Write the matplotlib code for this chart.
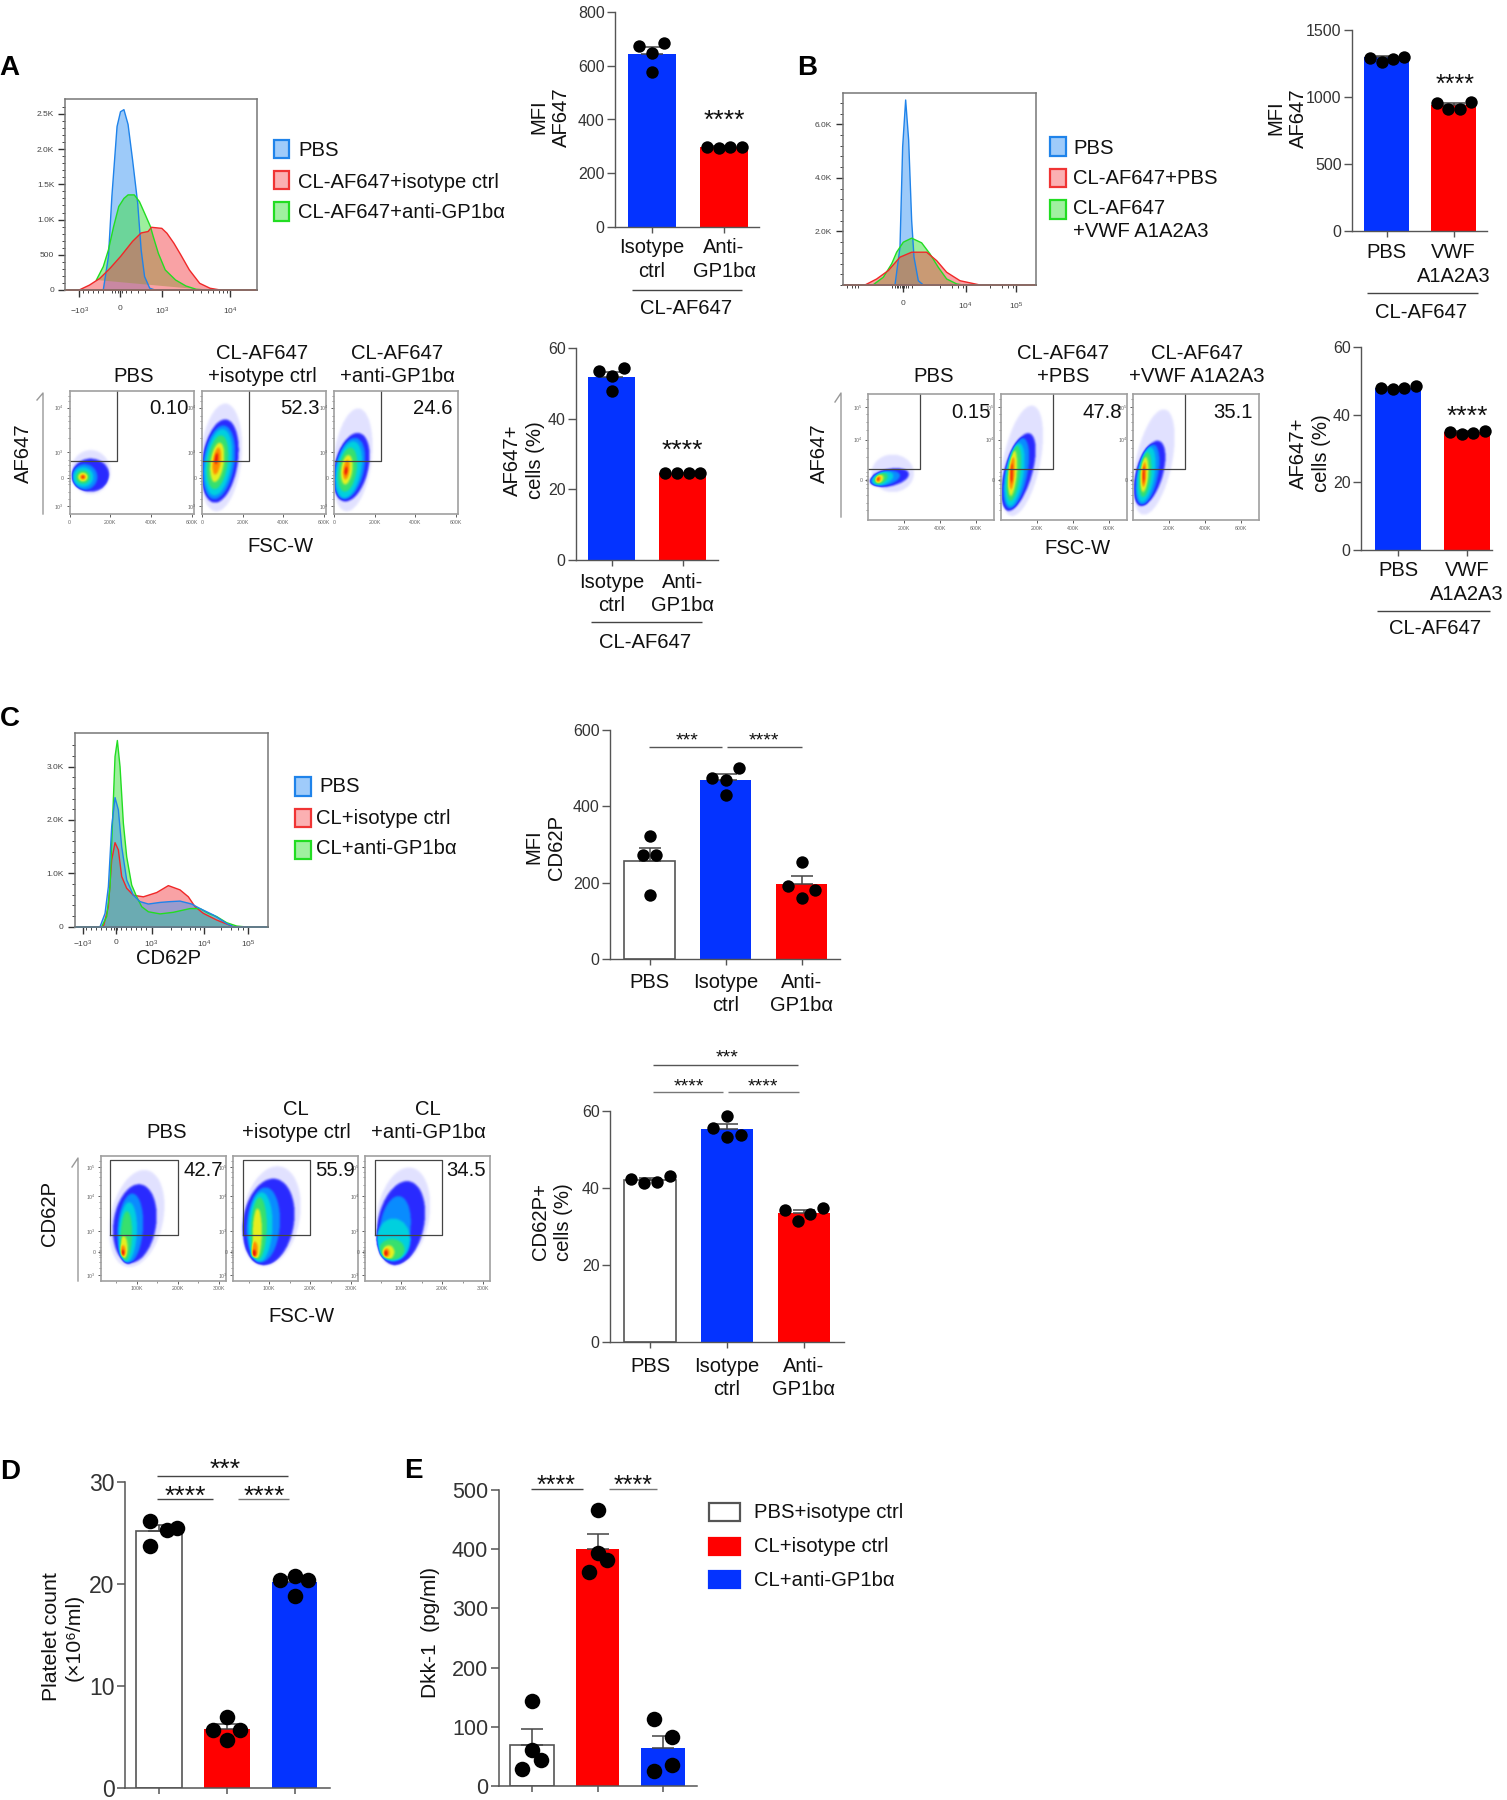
"""
platelet CL uptake figure, panels A to E
flow plots are rasterised from nested density outlines read off the picture
"""
import numpy as np
import matplotlib
matplotlib.use("Agg")
import matplotlib.pyplot as plt
from matplotlib.patches import Rectangle
from matplotlib.colors import LinearSegmentedColormap

plt.rcParams['font.family'] = ['Liberation Sans', 'DejaVu Sans']

W, H = 1507, 1800
BLUE, RED = '#0433ff', '#ff0000'
LINE = '#555555'

# --- bar data ---
a_mfi_means = [645, 297]
a_mfi_sem = [25, 3]
a_mfi_pts = [[673, 686, 649, 576], [298, 293, 296, 298]]
a_mfi_off = [[-.185, .17, 0, 0], [-.235, -.074, .088, .25]]

a_pct_means = [51.9, 24.6]
a_pct_sem = [1.4, .1]
a_pct_pts = [[53.5, 54.3, 52.1, 47.9], [24.6, 24.5, 24.5, 24.7]]
a_pct_off = [[-.18, .17, 0, 0], [-.244, -.08, .085, .25]]

b_mfi_means = [1296, 940]
b_mfi_sem = [9, 14]
b_mfi_pts = [[1293, 1259, 1281, 1301], [958, 913, 913, 965]]
b_mfi_off = [[-.244, -.07, .09, .254], [-.24, -.075, .09, .26]]

b_pct_means = [48, 35]
b_pct_sem = [.2, .3]
b_pct_pts = [[47.9, 47.7, 47.9, 48.5], [34.9, 34.3, 34.6, 35.2]]
b_pct_off = [[-.244, -.07, .09, .254], [-.24, -.075, .09, .26]]

c_mfi_means = [258, 468, 196]
c_mfi_sem = [34, 17, 21]
c_mfi_pts = [[322, 273, 273, 167], [474, 469, 501, 429], [192, 181, 254, 160]]
c_mfi_off = [[0, -.09, .09, 0], [-.18, 0, .175, 0], [-.18, .18, 0, 0]]

c_pct_means = [42.1, 55.2, 33.6]
c_pct_sem = [.4, 1.4, .8]
c_pct_pts = [[42.3, 41.4, 41.6, 43.2], [55.6, 53.8, 58.7, 53.2], [34.2, 31.4, 33.2, 34.7]]
c_pct_off = [[-.247, -.078, .087, .255], [-.18, .178, 0, 0], [-.25, -.08, .08, .25]]

d_means = [25.2, 5.8, 20.2]
d_sem = [.55, .5, .45]
d_pts = [[26.2, 23.7, 25.3, 25.5], [7.0, 5.7, 5.7, 4.7], [20.4, 20.75, 20.4, 18.8]]
d_off = [[-.14, -.14, .12, .27], [0, -.2, .2, 0], [-.21, 0, .2, 0]]

e_means = [70, 401, 64]
e_sem = [26, 24, 21]
e_pts = [[144, 61, 44, 28], [467, 393, 381, 361], [113, 83, 35, 26]]
e_off = [[0, 0, .13, -.15], [0, 0, .15, -.13], [-.13, .14, .14, -.13]]

# --- histogram data: x in display channels, y in counts ---
ha_blue_x = [110, 125, 135, 150, 160, 170, 182, 195, 210, 220, 230, 245, 260]
ha_blue_y = [0, 475, 1330, 2320, 2530, 2560, 2350, 1850, 1230, 570, 190, 25, 0]
ha_green_x = [90, 110, 125, 140, 155, 170, 182, 200, 215, 230, 247, 255, 270, 290, 320, 350, 380, 410]
ha_green_y = [142, 332, 570, 900, 1185, 1300, 1350, 1350, 1255, 1090, 900, 760, 520, 285, 142, 57, 10, 0]
ha_red_x = [40, 70, 100, 130, 160, 195, 220, 240, 250, 280, 295, 315, 335, 360, 390, 420, 450]
ha_red_y = [0, 70, 165, 310, 475, 690, 810, 830, 890, 875, 805, 665, 500, 285, 95, 25, 0]

hb_blue_x = [155, 170, 178, 187, 196, 205, 212, 225, 240]
hb_blue_y = [0, 1410, 5160, 6910, 5410, 2410, 1040, 160, 0]
hb_green_x = [90, 120, 145, 160, 180, 205, 235, 260, 285, 310, 340, 360]
hb_green_y = [12, 290, 790, 1225, 1600, 1750, 1575, 1160, 660, 225, 40, 0]
hb_red_x = [65, 100, 135, 170, 205, 250, 280, 310, 350, 410]
hb_red_y = [0, 225, 540, 1040, 1225, 1225, 910, 475, 160, 0]

hc_green_x = [81, 96, 106, 114, 121, 128, 136, 146, 156, 171, 186, 201, 221, 256, 296, 346, 376, 401, 426, 456, 486, 506]
hc_green_y = [0, 190, 750, 2060, 3190, 3490, 3000, 1940, 1310, 780, 560, 375, 280, 240, 270, 340, 340, 250, 190, 75, 12, 0]
hc_blue_x = [76, 91, 101, 111, 121, 131, 141, 156, 176, 196, 221, 256, 286, 316, 351, 376, 416, 456, 476]
hc_blue_y = [0, 250, 750, 1875, 2420, 2190, 1500, 875, 590, 470, 425, 455, 470, 480, 425, 340, 220, 60, 0]
hc_red_x = [86, 101, 111, 121, 131, 141, 156, 176, 206, 246, 281, 316, 341, 361, 386, 426, 476]
hc_red_y = [0, 375, 1250, 1575, 1440, 940, 720, 590, 560, 640, 770, 690, 560, 375, 250, 125, 0]

# --- flow plots: (level, x centre, y centre, width, height, lean) ---
dens_colors = ['#ffffff', '#e2e2ff', '#2a2aff', '#0a8cff', '#00d0e0', '#35e070', '#e6f020', '#ff8c00', '#e8140c']

flow_a1 = [(1, 100, 34, 195, 36, 0), (2, 100, 31.5, 184, 27, 0), (3, 70, 30, 125, 21, 0), (4, 64, 30, 98, 16, 0),
           (5, 62, 30, 69, 11, 0), (6, 62, 30, 46, 7, 0), (7, 62, 30, 26, 4.3, 0), (8, 62, 30, 13, 2.7, 0)]
flow_a2 = [(1, 92, 46, 205, 88, 22), (2, 88, 43, 178, 68, 25), (3, 82, 42, 155, 60, 22), (4, 80, 42, 130, 54, 20),
           (5, 76, 42, 100, 44, 16), (6, 74, 42, 65, 32, 12), (7, 72, 43, 38, 22, 8), (8, 70, 45, 16, 9, 3)]
flow_a3 = [(1, 90, 44, 190, 84, 28), (2, 85, 38, 170, 56, 30), (3, 76, 37, 145, 50, 26), (4, 72, 36, 122, 46, 22),
           (5, 66, 36, 90, 36, 14), (6, 62, 36, 55, 24, 8), (7, 60, 36, 30, 16, 5), (8, 58, 35, 14, 7, 2)]
flow_b1 = [(1, 135, 37, 235, 30, 0), (2, 115, 33.5, 205, 15, 40), (3, 95, 33, 150, 12, 30), (4, 80, 33, 110, 11, 20),
           (5, 70, 33, 70, 9, 12), (6, 62, 32.5, 42, 7, 6), (7, 56, 32.5, 24, 5, 3), (8, 54, 32.5, 12, 3, 1)]
flow_b2 = [(1, 115, 47, 210, 88, 55), (2, 95, 38, 160, 62, 55), (3, 84, 37, 125, 56, 35), (4, 75, 36, 100, 50, 25),
           (5, 70, 37, 72, 44, 18), (6, 63, 37, 46, 36, 10), (7, 60, 37, 28, 26, 6), (8, 58, 37, 12, 16, 1)]
flow_b3 = [(1, 115, 46, 205, 84, 55), (2, 90, 37, 155, 52, 45), (3, 80, 36, 118, 48, 30), (4, 72, 36, 95, 44, 22),
           (5, 66, 36, 65, 36, 12), (6, 62, 36, 42, 28, 7), (7, 60, 36, 24, 20, 3), (8, 58, 36, 11, 14, 1)]
flow_c1 = [(1, 100, 50, 130, 78, 18), (2, 95, 46, 105, 63, 10), (3, 84, 42, 62, 56, 5), (4, 78, 39, 44, 48, 3),
           (5, 74, 36, 28, 40, 2), (6, 68, 27, 18, 18, 0), (7, 66, 24, 13, 9, 0), (8, 65.6, 22.5, 9, 5, 0)]
flow_c2 = [(1, 105, 52, 140, 80, 15), (2, 98, 47, 125, 70, 12), (3, 86, 45, 80, 60, 5), (4, 79, 43, 58, 56, 3),
           (5, 75, 42, 38, 50, 2), (6, 71, 38, 22, 40, 1), (7, 65, 25, 15, 13, 0), (8, 63, 22, 11, 6, 0)]
flow_c3 = [(1, 105, 52, 130, 78, 15), (2, 100, 46, 115, 68, 15), (3, 86, 42, 75, 52, 8), (4, 82, 33, 82, 34, 0),
           (5, 78, 25, 62, 17, 0), (6, 70, 23, 28, 11, 0), (7, 65, 22.5, 15, 7, 0), (8, 63, 22, 9, 5, 0)]

fig = plt.figure(figsize=(W / 100, H / 100), dpi=100, facecolor='white')
dens_cmap = LinearSegmentedColormap.from_list('dens', dens_colors)


def pix_axes(x0, x1, y_top, y_bot):
    return fig.add_axes([x0 / W, 1 - y_bot / H, (x1 - x0) / W, (y_bot - y_top) / H])


def bar_panel(left, right, y_zero, y_top, ymax, yticks, c0, step, means, sem, pts, off, colors, labels=None,
              ticksize=11.5, labelsize=14.5, dot=80, tick_w=1.0, label_pad=5):
    ax = pix_axes(left, right, y_top, y_zero)
    ax.set_xlim((left - c0) / step, (right - c0) / step)
    ax.set_ylim(0, ymax)
    xs = np.arange(len(means))
    for i, c in enumerate(colors):
        if c == 'white':
            ax.bar(i, means[i], .67, facecolor='white', edgecolor=LINE, linewidth=1.2, zorder=2)
        else:
            ax.bar(i, means[i], .67, color=c, zorder=2)
    ax.errorbar(xs, means, yerr=[np.zeros(len(sem)), sem], fmt='none', ecolor='#444444', elinewidth=1.1,
                capsize=8, capthick=1.1, zorder=3, clip_on=False)
    for i in xs:
        ax.scatter(i + np.array(off[i]), pts[i], s=dot, color='black', linewidths=0, zorder=4, clip_on=False)
    for s in ['top', 'right']:
        ax.spines[s].set_visible(False)
    for s in ['left', 'bottom']:
        ax.spines[s].set_color(LINE)
        ax.spines[s].set_linewidth(tick_w)
    ax.set_yticks(yticks)
    ax.set_xticks(xs)
    ax.set_xticklabels(labels if labels else [''] * len(xs), fontsize=labelsize, linespacing=1.3, color='#111111')
    ax.tick_params(axis='y', labelsize=ticksize, length=5.5, width=tick_w, color=LINE, labelcolor='#333333', pad=2)
    ax.tick_params(axis='x', length=4, width=tick_w, color=LINE, pad=label_pad)
    ax.patch.set_alpha(0)
    return ax


def hist_panel(box, xmax, ymax, yticks, ylabels, yminor, xticks, xlabels, xminor, curves, xpad=6):
    ax = pix_axes(*box)
    ax.set_xlim(0, xmax)
    ax.set_ylim(0, ymax)
    for xs, ys, face, edge, alpha in curves:
        ax.fill(xs, ys, facecolor=face, alpha=alpha, linewidth=0)
        ax.plot(xs, ys, color=edge, lw=1.0)
        ax.plot([0, xmax], [0, 0], color=edge, lw=1.2, clip_on=False)
    ax.set_yticks(yticks)
    ax.set_yticklabels(ylabels)
    ax.set_yticks(yminor, minor=True)
    ax.set_xticks(xticks)
    ax.set_xticklabels(xlabels)
    ax.set_xticks(xminor, minor=True)
    ax.tick_params(which='major', labelsize=6, length=5, width=1, color='#333333', labelcolor='#444444', pad=3)
    ax.tick_params(which='minor', length=2.5, width=.7, color='#444444')
    ax.tick_params(axis='x', which='major', pad=xpad)
    for s in ax.spines.values():
        s.set_color('#777777')
        s.set_linewidth(1.1)
    return ax


def density_grid(layers, xlim, nx, ny, blur):
    # fill the outlines into a level grid, then soften the steps
    gx = np.linspace(xlim[0], xlim[1], nx)
    gy = np.linspace(0, 100, ny)
    xx, yy = np.meshgrid(gx, gy)
    grid = np.zeros((ny, nx))
    for level, cx, cy, w, h, lean in layers:
        dy = (yy - cy) / (h / 2)
        dx = (xx - cx - lean * dy) / (w / 2)
        grid[dx ** 2 + dy ** 2 <= 1] = level
    kernel = np.ones(blur) / blur
    for _ in range(2):
        grid = np.apply_along_axis(np.convolve, 0, grid, kernel, mode='same')
        grid = np.apply_along_axis(np.convolve, 1, grid, kernel, mode='same')
    return grid


def flow_panel(box, xlim, xticks, xlabels, xminor, yticks, ylabels, yminor, layers, gate):
    ax = pix_axes(*box)
    nx = int(2 * (box[1] - box[0]))
    ny = int(2 * (box[3] - box[2]))
    ax.imshow(density_grid(layers, xlim, nx, ny, 5), extent=(xlim[0], xlim[1], 0, 100), origin='lower',
              aspect='auto', cmap=dens_cmap, vmin=0, vmax=8, interpolation='bilinear')
    ax.set_xlim(*xlim)
    ax.set_ylim(0, 100)
    ax.plot(gate[0], gate[1], color='#444444', lw=.9, clip_on=False)
    ax.set_xticks(xticks)
    ax.set_xticklabels(xlabels)
    ax.set_xticks(xminor, minor=True)
    ax.set_yticks(yticks)
    ax.set_yticklabels(ylabels)
    ax.set_yticks(yminor, minor=True)
    ax.tick_params(which='major', labelsize=3.8, length=2.5, width=.6, color='#444444', labelcolor='#666666', pad=1.5)
    ax.tick_params(which='minor', length=1.5, width=.5, color='#666666')
    for s in ax.spines.values():
        s.set_color('#a0a0a0')
        s.set_linewidth(1.2)
    return ax


# --- bar panels ---
two_a = ['Isotype\nctrl', 'Anti-\nGP1bα']
two_b = ['PBS', 'VWF\nA1A2A3']
three = ['PBS', 'Isotype\nctrl', 'Anti-\nGP1bα']

bar_panel(615, 759, 227, 12, 800, [0, 200, 400, 600, 800], 652, 72, a_mfi_means, a_mfi_sem, a_mfi_pts, a_mfi_off,
          [BLUE, RED], two_a, label_pad=4)
bar_panel(576, 718, 560, 348, 60, [0, 20, 40, 60], 611.5, 71, a_pct_means, a_pct_sem, a_pct_pts, a_pct_off,
          [BLUE, RED], two_a)
bar_panel(1352, 1487, 231, 30, 1500, [0, 500, 1000, 1500], 1386.5, 67, b_mfi_means, b_mfi_sem, b_mfi_pts, b_mfi_off,
          [BLUE, RED], two_b)
bar_panel(1361, 1492, 550, 347, 60, [0, 20, 40, 60], 1398, 69, b_pct_means, b_pct_sem, b_pct_pts, b_pct_off,
          [BLUE, RED], two_b, label_pad=4)
bar_panel(610, 840, 959, 730, 600, [0, 200, 400, 600], 649.5, 76, c_mfi_means, c_mfi_sem, c_mfi_pts, c_mfi_off,
          ['white', BLUE, RED], three, label_pad=6)
bar_panel(610, 844, 1342, 1111, 60, [0, 20, 40, 60], 650, 77, c_pct_means, c_pct_sem, c_pct_pts, c_pct_off,
          ['white', BLUE, RED], three, label_pad=6.5)
bar_panel(125, 330, 1788, 1482, 30, [0, 10, 20, 30], 159, 67.8, d_means, d_sem, d_pts, d_off,
          ['white', RED, BLUE], None, ticksize=16.5, dot=125, tick_w=1.1)
bar_panel(498.6, 697, 1786, 1490, 500, [0, 100, 200, 300, 400, 500], 532, 65.5, e_means, e_sem, e_pts, e_off,
          ['white', RED, BLUE], None, ticksize=15.5, dot=125, tick_w=1.1)

# --- histograms ---
H_BLUE = ('#3d96f5', '#1f83ea')
H_RED = ('#f5474c', '#f02828')
H_GREEN = ('#3ce03c', '#22dd22')
tex = lambda s: r'$\mathregular{' + s + '}$'

hist_panel((65.4, 256.5, 99, 290), 555, 2711, [0, 500, 1000, 1500, 2000, 2500],
           ['0', '500', '1.0K', '1.5K', '2.0K', '2.5K'], np.arange(100, 2700, 100),
           [40, 158, 280, 478], [tex('-10^{3}'), '0', tex('10^{3}'), tex('10^{4}')],
           [50, 65, 80, 95, 110, 135, 145, 152, 165, 175, 190, 210, 230, 330, 370, 395, 415, 430, 445, 458, 468],
           [(ha_blue_x, ha_blue_y, H_BLUE[0], H_BLUE[1], .5),
            (ha_green_x, ha_green_y, H_GREEN[0], H_GREEN[1], .5),
            (ha_red_x, ha_red_y, H_RED[0], H_RED[1], .5)])

hist_panel((843.3, 1035.7, 93.3, 285), 577, 7160, [2000, 4000, 6000], ['2.0K', '4.0K', '6.0K'],
           np.arange(0, 7200, 400),
           [178, 367, 517], ['0', tex('10^{4}'), tex('10^{5}')],
           [10, 25, 35, 45, 145, 155, 160, 165, 170, 175, 182, 188, 195, 205, 290, 325, 345, 358, 440, 475, 495, 508],
           [(hb_blue_x, hb_blue_y, H_BLUE[0], H_BLUE[1], .5),
            (hb_green_x, hb_green_y, H_GREEN[0], H_GREEN[1], .5),
            (hb_red_x, hb_red_y, H_RED[0], H_RED[1], .5)])

hist_panel((74.7, 267.7, 733.3, 926.7), 579, 3625, [0, 1000, 2000, 3000], ['0', '1.0K', '2.0K', '3.0K'],
           np.arange(200, 3600, 200),
           [24, 123, 231, 388, 521], [tex('-10^{3}'), '0', tex('10^{3}'), tex('10^{4}'), tex('10^{5}')],
           [35, 50, 65, 80, 95, 108, 118, 128, 140, 155, 170, 185, 200, 215, 290, 320, 345, 360, 375, 440, 470, 490, 505],
           [(hc_red_x, hc_red_y, H_RED[0], H_RED[1], .5),
            (hc_green_x, hc_green_y, H_GREEN[0], H_GREEN[1], .5),
            (hc_blue_x, hc_blue_y, H_BLUE[0], H_BLUE[1], .5)], xpad=3.5)

# --- flow plots ---
a_yt = [6.5, 29, 50.5, 86.5]
a_yl = [tex('10^{3}'), '0', tex('10^{3}'), tex('10^{4}')]
a_ym = [12, 18, 24, 27, 29.5, 32, 35, 40, 44, 62, 70, 76, 80, 92, 96]
for left, layers in zip([69.7, 202, 334], [flow_a1, flow_a2, flow_a3]):
    flow_panel((left, left + 124, 391, 514), (0, 610), [0, 200, 400, 600], ['0', '200K', '400K', '600K'], [],
               a_yt, a_yl, a_ym, layers, ([0, 231, 231], [43.2, 43.2, 100]))

b_yt = [32, 64, 90]
b_yl = ['0', tex('10^{4}'), tex('10^{5}')]
b_ym = [8, 14, 20, 26, 29, 31, 33, 35, 38, 50, 57, 72, 78, 84, 96]
for left, layers in zip([868.3, 1000.7, 1133.3], [flow_b1, flow_b2, flow_b3]):
    flow_panel((left, left + 126, 394.3, 520.3), (0, 700), [200, 400, 600], ['200K', '400K', '600K'], [],
               b_yt, b_yl, b_ym, layers, ([0, 289, 289], [40.5, 40.5, 100]))

c_yt = [4.5, 23, 40, 68, 91]
c_yl = [tex('10^{3}'), '0', tex('10^{3}'), tex('10^{4}'), tex('10^{5}')]
c_ym = [10, 15, 19, 21, 22, 24, 25, 27, 31, 51, 58, 63, 77, 83, 87, 96]
for left, layers in zip([101, 233.3, 365.3], [flow_c1, flow_c2, flow_c3]):
    flow_panel((left, left + 125, 1156, 1280.7), (13, 317), [100, 200, 300], ['100K', '200K', '300K'],
               [50, 150, 250], c_yt, c_yl, c_ym, layers,
               ([36, 200, 200, 36, 36], [36.4, 36.4, 97, 97, 36.4]))

# --- overlay in picture pixels for all the loose text and lines ---
over = fig.add_axes([0, 0, 1, 1], zorder=20)
over.set_xlim(0, W)
over.set_ylim(H, 0)
over.axis('off')


def txt(x, y, s, size=14.6, ha='center', rot=0, weight='normal', color='#111111', ls=1.28):
    over.text(x, y, s, fontsize=size, ha=ha, va='center', rotation=rot, fontweight=weight, color=color,
              linespacing=ls, rotation_mode='anchor' if rot else 'default')


def stars(x, y, s, size=19):
    # asterisks sit high in the em box, so place them from the baseline
    over.text(x, y + .47 * size * 100 / 72, s, fontsize=size, ha='center', va='baseline', color='#111111')


def rule(x0, x1, y, color='#444444', lw=1.0):
    over.plot([x0, x1], [y, y], color=color, lw=lw, solid_capstyle='butt')


def square(x0, x1, y0, y1, face, edge):
    over.add_patch(Rectangle((x0, y0), x1 - x0, y1 - y0, facecolor=face, edgecolor=edge, lw=1.6))


def arrow_line(x, y0, y1, tip_x, tip_y):
    over.plot([tip_x, x, x], [tip_y, y0, y1], color='#999999', lw=1.0)


# panel letters
for x, y, s in [(9, 68, 'A'), (807, 68, 'B'), (10, 719, 'C'), (10, 1472, 'D'), (413, 1471, 'E')]:
    txt(x, y, s, size=20, weight='bold', color='black')

# legend colours used in A, B and C
L_BLUE = ('#9fcbfa', '#1f83ea')
L_RED = ('#fbb0b2', '#f03434')
L_GREEN = ('#a0f0a0', '#22dd22')

for (y0, y1, yt, s, col) in [(140, 158, 150, 'PBS', L_BLUE), (171, 189, 182, 'CL-AF647+isotype ctrl', L_RED),
                             (202, 221, 213, 'CL-AF647+anti-GP1bα', L_GREEN)]:
    square(274, 289, y0, y1, col[0], col[1])
    txt(298, yt, s, ha='left')
for (y0, y1, yt, s, col) in [(137, 156, 148, 'PBS', L_BLUE), (169, 187, 178, 'CL-AF647+PBS', L_RED),
                             (200, 219, 220, 'CL-AF647\n+VWF A1A2A3', L_GREEN)]:
    square(1050, 1066, y0, y1, col[0], col[1])
    txt(1073, yt, s, ha='left')
for (y0, y1, xt, yt, s, col) in [(777, 796, 319, 787, 'PBS', L_BLUE), (809, 827, 316, 819, 'CL+isotype ctrl', L_RED),
                                 (841, 859, 316, 849, 'CL+anti-GP1bα', L_GREEN)]:
    square(295, 311, y0, y1, col[0], col[1])
    txt(xt, yt, s, ha='left')

# bar y labels, group rules and stars
txt(550, 117, 'MFI\nAF647', rot=90)
rule(632, 742, 290)
txt(686, 308, 'CL-AF647')
stars(724, 115, '****')

txt(524, 460, 'AF647+\ncells (%)', rot=90)
rule(591, 702, 622)
txt(645, 642, 'CL-AF647')
stars(682, 445, '****')

txt(1287, 118, 'MFI\nAF647', rot=90)
rule(1367, 1478, 293)
txt(1421, 312, 'CL-AF647')
stars(1455, 80, '****', size=18)

txt(1310, 453, 'AF647+\ncells (%)', rot=90)
rule(1377, 1490, 611)
txt(1435, 629, 'CL-AF647')
stars(1467, 411, '****')

txt(545, 847, 'MFI\nCD62P', rot=90)
rule(649, 722, 747, color='#555555')
rule(727, 802, 747, color='#555555')
stars(687, 736, '***', size=14)
stars(764, 736, '****', size=14)

txt(552, 1222, 'CD62P+\ncells (%)', rot=90)
rule(653, 798, 1065, color='#555555')
rule(653, 723, 1092, color='#777777')
rule(728, 799, 1092, color='#777777')
stars(727, 1053, '***', size=14)
stars(689, 1082, '****', size=14)
stars(763, 1082, '****', size=14)

txt(63, 1637, 'Platelet count\n(×10⁶/ml)', size=15.3, rot=90)
rule(157, 288, 1476)
rule(157, 213, 1499)
rule(238, 289, 1499, color='#777777')
stars(225, 1464, '***')
stars(185, 1491, '****')
stars(264, 1491, '****')

txt(430, 1633, 'Dkk-1  (pg/ml)', size=15, rot=90)
rule(531, 583, 1489)
rule(609, 657, 1489, color='#777777')
stars(556, 1481, '****', size=18)
stars(633, 1481, '****', size=18)

for y0, y1, yt, s, face, edge in [(1503, 1521, 1512, 'PBS+isotype ctrl', 'white', LINE),
                                  (1538, 1555, 1547, 'CL+isotype ctrl', RED, RED),
                                  (1571, 1588, 1580, 'CL+anti-GP1bα', BLUE, BLUE)]:
    square(709, 740, y0, y1, face, edge)
    txt(754, yt, s, ha='left')

# flow plot titles and numbers
txt(134, 377, 'PBS')
txt(262, 365, 'CL-AF647\n+isotype ctrl')
txt(397, 365, 'CL-AF647\n+anti-GP1bα')
txt(189, 409, '0.10', ha='right')
txt(320, 409, '52.3', ha='right')
txt(452, 409, '24.6', ha='right')
txt(23, 453, 'AF647', rot=90)
txt(280, 547, 'FSC-W')
arrow_line(43, 393, 514, 37, 400)

txt(934, 377, 'PBS')
txt(1063, 365, 'CL-AF647\n+PBS')
txt(1197, 365, 'CL-AF647\n+VWF A1A2A3')
txt(991, 413, '0.15', ha='right')
txt(1122, 413, '47.8', ha='right')
txt(1253, 413, '35.1', ha='right')
txt(819, 453, 'AF647', rot=90)
txt(1077, 549, 'FSC-W')
arrow_line(841, 393, 517, 835, 402)

txt(167, 1133, 'PBS')
txt(296, 1121, 'CL\n+isotype ctrl')
txt(428, 1121, 'CL\n+anti-GP1bα')
txt(223, 1171, '42.7', ha='right')
txt(355, 1171, '55.9', ha='right')
txt(486, 1171, '34.5', ha='right')
txt(50, 1213, 'CD62P', rot=90)
txt(301, 1317, 'FSC-W')
arrow_line(78, 1158, 1281, 72, 1167)

txt(169, 958, 'CD62P')

fig.savefig('out.png', dpi=100)
